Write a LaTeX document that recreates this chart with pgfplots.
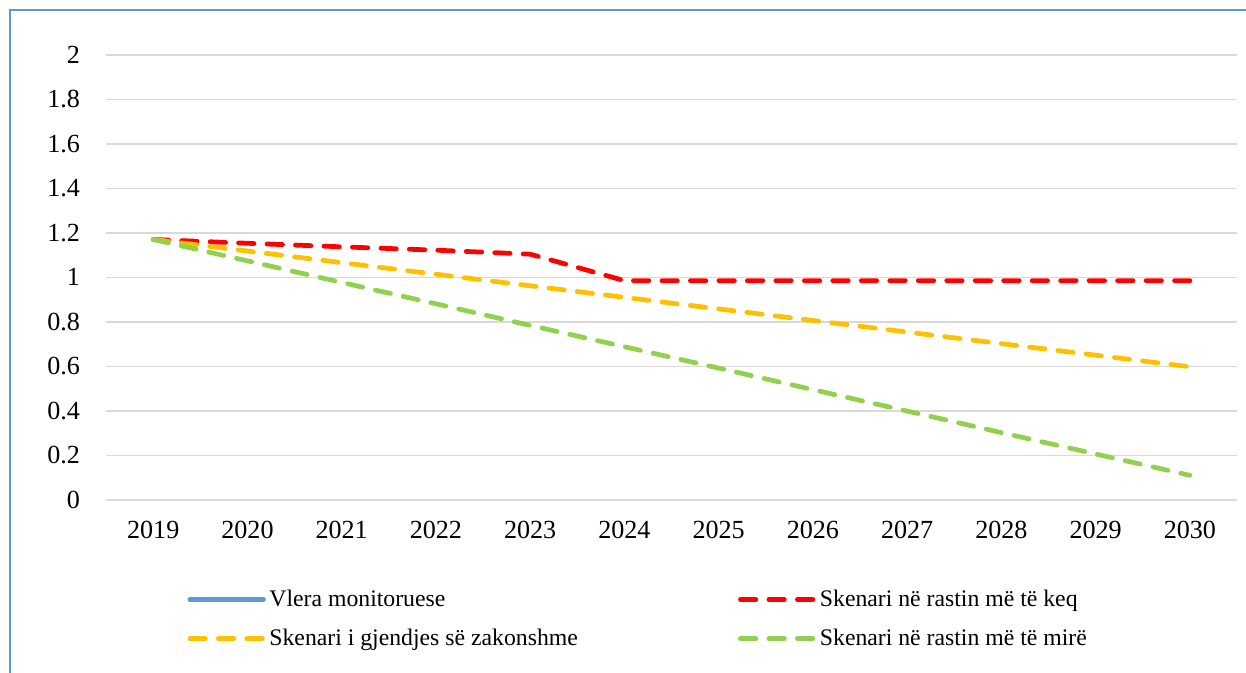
\documentclass[border=0pt]{standalone}
\usepackage{fontspec}
\setmainfont{Liberation Serif}
\usepackage{pgfplots}
\pgfplotsset{compat=1.18}

\definecolor{monblue}{HTML}{5B9BD5}
\definecolor{worstred}{HTML}{FF0000}
\definecolor{normyellow}{HTML}{FFC000}
\definecolor{bestgreen}{HTML}{92D050}
\definecolor{gridgray}{HTML}{D9D9D9}

% x = 0..11 stands for 2019..2030
\pgfplotstableread{
x keq gjendje mire
0  1.170 1.170 1.170
1  1.153 1.118 1.074
2  1.137 1.066 0.977
3  1.122 1.014 0.881
4  1.104 0.962 0.784
5  0.985 0.910 0.688
6  0.985 0.858 0.592
7  0.985 0.806 0.495
8  0.985 0.754 0.399
9  0.985 0.702 0.302
10 0.985 0.650 0.206
11 0.985 0.598 0.110
}\scenarios

\begin{document}
\begin{tikzpicture}
% page: 1246x673 px at 0.4213 pt/px
\path[use as bounding box] (0,0) rectangle (525pt,283.5pt);
\draw[monblue, line width=0.9pt] (4.3pt,-1pt) -- (4.3pt,279.3pt) -- (526pt,279.3pt);
\begin{axis}[
  at={(44.7pt,72.9pt)}, anchor=south west,
  scale only axis, width=476.5pt, height=187.5pt,
  xmin=-0.5, xmax=11.5, ymin=0, ymax=2,
  xtick={0,...,11},
  xticklabels={2019,2020,2021,2022,2023,2024,2025,2026,2027,2028,2029,2030},
  ytick={0,0.2,...,2.01},
  axis line style={draw=none},
  major tick length=0pt,
  ymajorgrids, grid style={gridgray, line width=0.6pt},
  ticklabel style={font=\fontsize{11}{13}\selectfont},
  /pgf/number format/assume math mode=true,
  yticklabel style={xshift=-7.5pt},
  xticklabel style={yshift=-5.5pt},
  legend columns=2,
  legend style={
    at={(0.0716,-0.19)}, anchor=north west, draw=none, inner sep=0pt,
    font=\fontsize{10}{12}\selectfont,
    nodes={inner xsep=1.5pt},
    row sep=4pt,
    /tikz/every even column/.append style={column sep=66pt},
  },
  legend cell align=left,
  legend image code/.code={\draw[#1] (0pt,0pt) -- (31pt,0pt);},
  every axis plot/.append style={line width=2pt, line cap=round, line join=round,
    dash pattern=on 6.5pt off 5.5pt},
]
\addlegendimage{monblue, line width=2pt, solid, line cap=round}
\addlegendentry{Vlera monitoruese}
\addplot[worstred] table[x=x, y=keq] {\scenarios};
\addlegendentry{Skenari në rastin më të keq}
\addplot[normyellow] table[x=x, y=gjendje] {\scenarios};
\addlegendentry{Skenari i gjendjes së zakonshme}
\addplot[bestgreen] table[x=x, y=mire] {\scenarios};
\addlegendentry{Skenari në rastin më të mirë}
\end{axis}
\end{tikzpicture}
\end{document}
